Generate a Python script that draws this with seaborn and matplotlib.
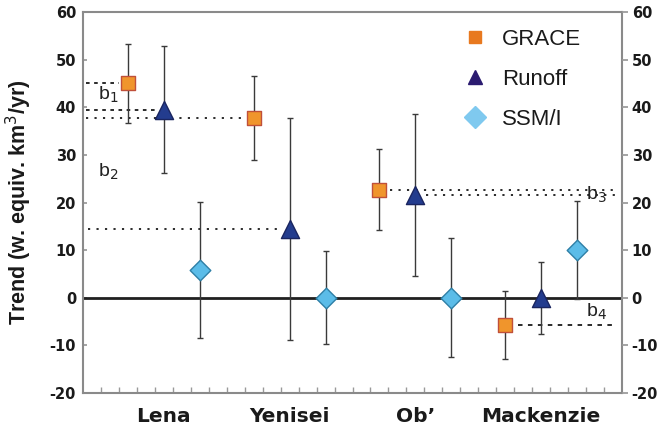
import matplotlib
matplotlib.use("Agg")
import matplotlib.pyplot as plt
import seaborn as sns
import pandas as pd
import numpy as np
from matplotlib.lines import Line2D

sns.set_theme(style="white")
plt.rcParams['font.family'] = ['Liberation Sans', 'DejaVu Sans']
plt.rcParams['axes.unicode_minus'] = False

rivers = ["Lena", "Yenisei", "Ob\u2019", "Mackenzie"]
series = ["GRACE", "Runoff", "SSM/I"]
grace = [45.0, 37.8, 22.7, -5.7]
grace_err = [8.2, 8.8, 8.5, 7.2]
runoff = [39.5, 14.5, 21.6, 0.0]
runoff_err = [13.3, 23.3, 17.0, 7.6]
ssmi = [5.8, 0.0, 0.0, 10.0]
ssmi_err = [14.3, 9.8, 12.5, 10.3]

# positions on a 0..30 axis
group_start = [2.5, 9.5, 16.5, 23.5]
offsets = [0, 2, 4]

rows = []
for i, r in enumerate(rivers):
    for j, (s, vals, errs) in enumerate(zip(series, [grace, runoff, ssmi], [grace_err, runoff_err, ssmi_err])):
        rows.append(dict(river=r, series=s, x=group_start[i] + offsets[j], trend=vals[i], err=errs[i]))
df = pd.DataFrame(rows)

fig = plt.figure(figsize=(6.71, 4.30), dpi=100)
ax = fig.add_axes([0.1237, 0.086, 0.927 - 0.1237, 0.972 - 0.086])

face = {"GRACE": "#F0952C", "Runoff": "#233C8E", "SSM/I": "#5BBCE8"}
edge = {"GRACE": "#C0503A", "Runoff": "#1A2560", "SSM/I": "#2E7FA6"}
mk = {"GRACE": "s", "Runoff": "^", "SSM/I": "D"}
ms = {"GRACE": 115, "Runoff": 170, "SSM/I": 110}

ax.axhline(0, color="#202020", lw=2.0, zorder=2)

for s in series:
    sub = df[df.series == s]
    ax.errorbar(sub.x, sub.trend, yerr=sub.err, fmt="none", ecolor="#3a3a3a",
                elinewidth=1.0, capsize=2.5, capthick=1.0, zorder=3)

for s in series:
    sub = df[df.series == s]
    sns.scatterplot(data=sub, x="x", y="trend", marker=mk[s], s=ms[s], color=face[s],
                    edgecolor=edge[s], linewidth=1.0, ax=ax, zorder=4, legend=False)

# reference lines (b1..b4)
dot = (0, (1.2, 3.5))
ax.plot([0.15, 2.0], [grace[0], grace[0]], color="k", lw=1.3, ls=(0, (2, 2.5)), zorder=1)
ax.plot([0.15, 4.0], [runoff[0], runoff[0]], color="k", lw=1.3, ls=(0, (2, 2.5)), zorder=1)
ax.plot([0.15, 9.0], [grace[1], grace[1]], color="k", lw=1.3, ls=dot, zorder=1)
ax.plot([0.3, 11.0], [runoff[1], runoff[1]], color="k", lw=1.3, ls=dot, zorder=1)
ax.plot([17.1, 29.7], [grace[2], grace[2]], color="k", lw=1.3, ls=dot, zorder=1)
ax.plot([19.1, 29.7], [runoff[2], runoff[2]], color="k", lw=1.3, ls=dot, zorder=1)
ax.plot([24.2, 29.5], [grace[3], grace[3]], color="k", lw=1.3, ls=(0, (2.5, 3)), zorder=1)

tk = dict(fontsize=14, color="#222222")
ax.text(0.85, 41.5, r"b$_1$", **tk)
ax.text(0.85, 25.5, r"b$_2$", **tk)
ax.text(28.0, 20.5, r"b$_3$", **tk)
ax.text(28.0, -4.0, r"b$_4$", **tk)

ax.set_xlim(0, 30)
ax.set_ylim(-20, 60)
ax.set_yticks(np.arange(-20, 61, 10))
ax.set_xticks([g + 2 for g in group_start])
ax.set_xticklabels(rivers, fontsize=14.5, fontweight="bold", family=["DejaVu Sans"], color="#1a1a1a")
ax.set_xticks(np.arange(1, 30, 1), minor=True)
ax.tick_params(axis="x", which="major", length=0, pad=10)
ax.tick_params(axis="x", which="minor", direction="in", length=4, color="#999999", bottom=True)
ax.tick_params(axis="y", direction="in", length=3, color="#999999", pad=5, left=True)
for lab in ax.get_yticklabels():
    lab.set_fontweight("bold")
    lab.set_family(["DejaVu Sans"])
    lab.set_fontsize(10.5)
    lab.set_color("#1a1a1a")
ax.set_xlabel("")
ax.set_ylabel("Trend (w. equiv. km$^3$/yr)", fontsize=15.5, fontweight="bold", color="#1a1a1a")
ax.yaxis.set_label_coords(-0.09, 0.5)
for sp in ax.spines.values():
    sp.set_color("#8a8a8a")
    sp.set_linewidth(1.5)

ax2 = ax.twinx()
ax2.set_ylim(-20, 60)
ax2.set_yticks(np.arange(-20, 61, 10))
ax2.tick_params(axis="y", direction="out", length=4, color="#999999", pad=3, right=True)
for lab in ax2.get_yticklabels():
    lab.set_fontweight("bold")
    lab.set_family(["DejaVu Sans"])
    lab.set_fontsize(10.5)
    lab.set_color("#1a1a1a")
for sp in ax2.spines.values():
    sp.set_visible(False)
ax2.grid(False)
ax.grid(False)

handles = [
    Line2D([], [], marker="s", ls="none", color="#E8791F", markersize=9),
    Line2D([], [], marker="^", ls="none", color="#2B1B70", markersize=10),
    Line2D([], [], marker="D", ls="none", color="#7FC9EF", markersize=11),
]
leg = ax.legend(handles, series, loc="upper left", bbox_to_anchor=(0.707, 0.955), frameon=False,
                fontsize=16, labelspacing=0.85, handlelength=1.0, handletextpad=0.7,
                borderaxespad=0, borderpad=0)
for t in leg.get_texts():
    t.set_color("#1a1a1a")

fig.savefig("out.png", dpi=100)
